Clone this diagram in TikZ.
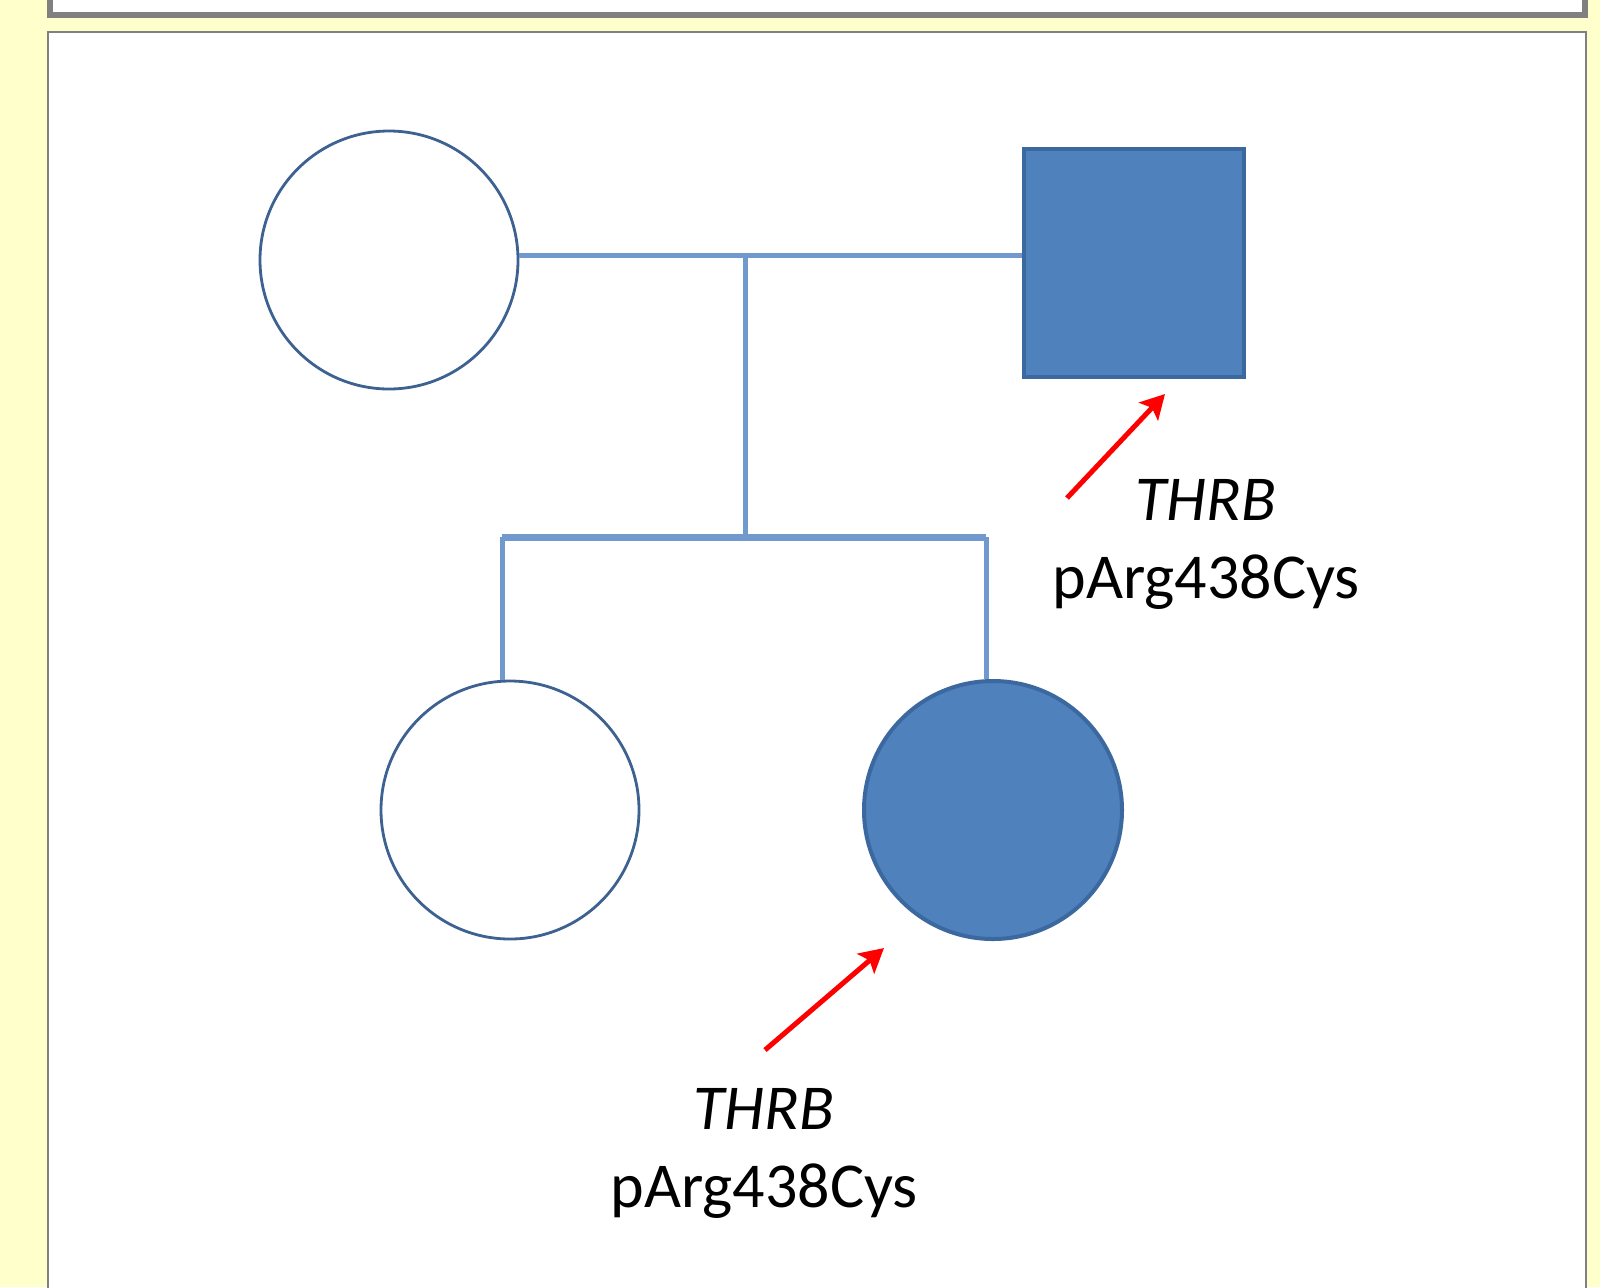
\documentclass[tikz,border=0pt]{standalone}
\usepackage{fontspec}
\setmainfont{Carlito}
\usetikzlibrary{arrows.meta,positioning}

\definecolor{pale}{HTML}{FFFFCC}
\definecolor{frameG}{HTML}{808080}
\definecolor{lineB}{HTML}{7199CD}
\definecolor{edgeB}{HTML}{3D6191}
\definecolor{fillB}{HTML}{4F81BD}
\definecolor{edgeF}{HTML}{3C68A0}

\tikzstyle{person} = [draw, circle, inner sep=0pt, minimum size=129pt, line width=1.4pt]
\tikzstyle{male} = [draw, rectangle, inner sep=0pt, minimum width=110pt, minimum height=114pt, line width=2pt]
\tikzstyle{tie} = [line width=2.5pt]
\tikzstyle{pointer} = [-{Stealth[length=12pt,width=13pt,inset=2.5pt]}, line width=2.5pt]
\tikzstyle{variant} = [align=center, inner sep=0pt, font=\fontsize{32}{39}\selectfont]

\begin{document}
\begin{tikzpicture} [x=0.5pt, y=-0.5pt]

\def\colL{lineB};
\def\colA{red};

% page and frames
\fill[pale] (0,0) rectangle (1600,1287);
\useasboundingbox (0,0) rectangle (1600,1287);
\draw[frameG, line width=3pt, fill=white] (49.5,-20) rectangle (1585,15);
\draw[frameG, line width=1pt, fill=white] (48,32) rectangle (1586,1300);

% parents
\node at (389,260)[person, draw=edgeB, fill=white] (M) {};
\node at (1134,263)[male, draw=edgeF, fill=fillB] (F) {};

% children
\node at (510,810)[person, draw=edgeB, fill=white] (D1) {};
\node at (993,810)[person, draw=edgeF, fill=fillB, line width=2pt] (D2) {};

\coordinate (mate) at (745,255);
\coordinate (sib) at (745,537);
\coordinate (s1) at (502,537);
\coordinate (s2) at (986,537);

\draw[tie, \colL] (M.east |- mate) -- (F.west |- mate);
\draw[tie, \colL] (mate) -- (sib);
\draw[tie, \colL, line width=3.5pt] (s1) -- (s2);
\draw[tie, \colL] (s1) -- (s1 |- D1.north);
\draw[tie, \colL] (s2) -- (s2 |- D2.north);

% variant labels
\node at (1206,479)[variant, anchor=north] (V1) {\textit{THRB}\\pArg438Cys};
\node at (764,1088)[variant, anchor=north] (V2) {\textit{THRB}\\pArg438Cys};

\coordinate (t1) at (1067,498);
\coordinate (h1) at (1165,394);
\coordinate (t2) at (765,1050);
\coordinate (h2) at (884,948);

\draw[pointer, \colA] (t1) -- (h1);
\draw[pointer, \colA] (t2) -- (h2);

\end{tikzpicture}
\end{document}
